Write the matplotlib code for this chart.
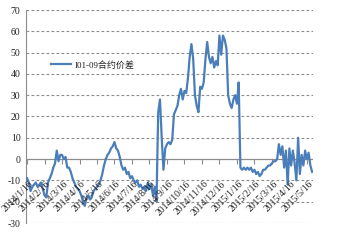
import matplotlib
matplotlib.use('Agg')
import matplotlib.pyplot as plt
import numpy as np

# I01-09 spread, roughly 10 samples per month
spread = [
    -9, -11, -15, -13, -12, -11, -13, -12, -11, -14,
    -17, -18, -11, -9, -7, -4, -2, 4, -1, 2,
    2, 0, 1, -4, -4, -6, -9, -11, -13, -14,
    -15, -17, -20, -22, -18, -17, -19, -18, -15, -14,
    -13, -12, -10, -7, -3, 0, 2, 3, 5, 6,
    8, 5, 4, 1, -3, -5, -4, -7, -6, -9,
    -8, -10, -11, -10, -13, -12, -14, -13, -15, -11,
    -14, -12, -17, -13, -20, 22, 28, 10, -5, 5,
    7, 8, 7, 9, 21, 23, 25, 30, 33, 28,
    32, 31, 38, 48, 54, 47, 30, 25, 22, 34,
    33, 36, 47, 55, 48, 45, 48, 43, 46, 44,
    58, 49, 58, 56, 52, 30, 26, 24, 28, 30,
    26, 36, -4, -5, -4, -5, -4, -5, -4, -6,
    -5, -7, -6, -8, -7, -5, -5, -4, -3, -3,
    -2, -1, -1, 0, 7, 2, 6, -4, 4, -12,
    5, -3, 4, -2, -10, 10, -7, 2, -3, 4,
    0, 3, -3, -6,
]
date_labels = ['2014/1/16', '2014/2/16', '2014/3/16', '2014/4/16', '2014/5/16',
               '2014/6/16', '2014/7/16', '2014/8/16', '2014/9/16', '2014/10/16',
               '2014/11/16', '2014/12/16', '2015/1/16', '2015/2/16', '2015/3/16',
               '2015/4/16', '2015/5/16']
label_step = 10
y_ticks = list(range(-30, 80, 10))
series_name = 'I01-09合约价差'

fonts = ['Liberation Serif', 'Noto Sans CJK SC', 'DejaVu Sans']

fig = plt.figure(figsize=(3.39, 2.43), dpi=100)
ax = fig.add_axes([26 / 339, 1 - 223 / 243, 287 / 339, 213 / 243])

x = np.arange(len(spread))
ax.plot(x, spread, color='#4a7ebb', lw=1.6, label=series_name, zorder=3)

ax.set_xlim(-0.6, len(spread) - 0.5)
ax.set_ylim(-30, 70)

# dashed grid, solid zero line
for yv in y_ticks:
    if yv == 0:
        ax.axhline(0, color='#8c8c8c', lw=0.9, zorder=2)
    else:
        ax.axhline(yv, color='#8c8c8c', lw=0.8, ls=(0, (2.5, 2)), zorder=1)

tick_pos = [i * label_step for i in range(len(date_labels))]
ax.vlines(tick_pos, -2.5, 0, color='#8c8c8c', lw=0.8, zorder=2)

for p, lab in zip(tick_pos, date_labels):
    ax.text(p + 0.8, -9.5, lab, rotation=45, rotation_mode='anchor', ha='right', va='top',
            fontsize=7, family=fonts, color='#222222')

ax.set_yticks(y_ticks)
ax.set_yticklabels([str(v) for v in y_ticks], family=fonts, fontsize=7, color='#222222')
ax.tick_params(axis='y', length=0, pad=4)
ax.set_xticks([])

for s in ['top', 'right', 'bottom']:
    ax.spines[s].set_visible(False)
ax.spines['left'].set_color('#8c8c8c')
ax.spines['left'].set_linewidth(0.8)

leg = ax.legend(loc='upper left', bbox_to_anchor=(0.06, 0.8), frameon=False,
                prop={'family': fonts, 'size': 6.5}, handlelength=2.2, handletextpad=0.4)
for t in leg.get_texts():
    t.set_color('#222222')

fig.savefig('out.png', dpi=100)
